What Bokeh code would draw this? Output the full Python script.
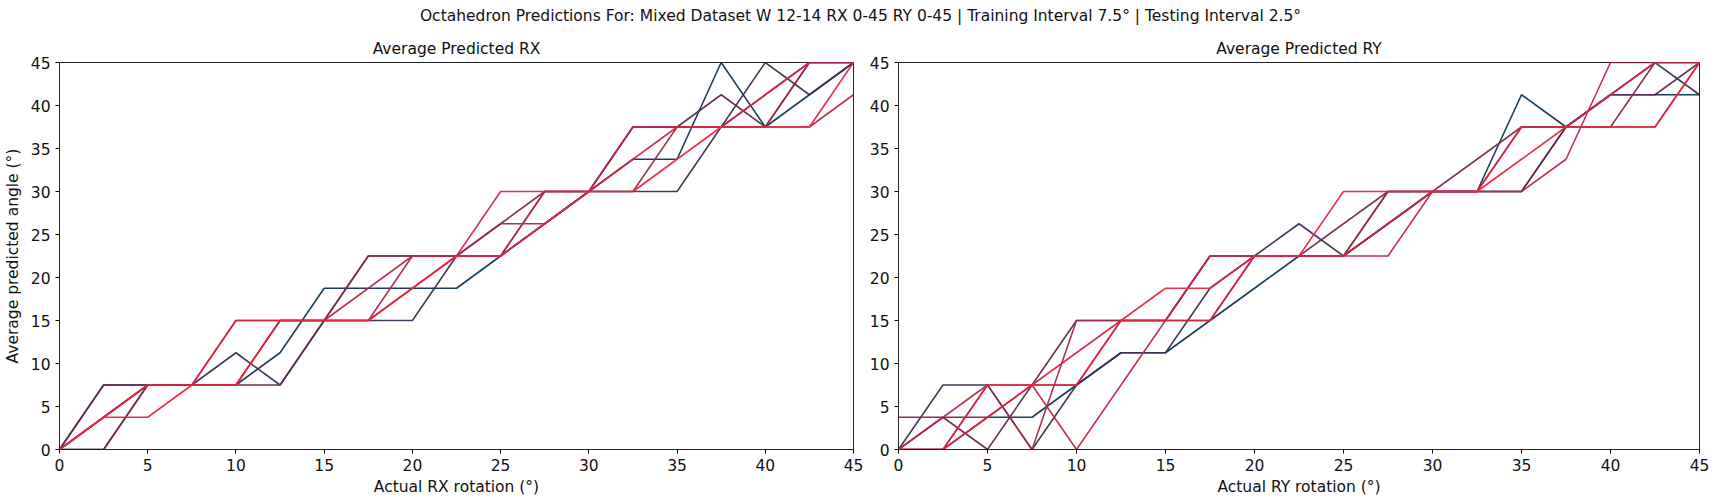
from bokeh.plotting import figure
from bokeh.layouts import column, row
from bokeh.models import Div, FixedTicker
from bokeh.embed import file_html
from bokeh.resources import INLINE

x = [0, 2.5, 5, 7.5, 10, 12.5, 15, 17.5, 20, 22.5, 25, 27.5, 30, 32.5, 35, 37.5, 40, 42.5, 45]

rx_series = [
    [0, 0, 7.5, 7.5, 7.5, 11.25, 18.75, 18.75, 18.75, 18.75, 22.5, 26.25, 30, 33.75, 33.75, 45, 37.5, 41.25, 45],
    [0, 7.5, 7.5, 7.5, 11.25, 7.5, 15, 15, 15, 22.5, 22.5, 26.25, 30, 30, 30, 37.5, 45, 41.25, 45],
    [0, 7.5, 7.5, 7.5, 7.5, 7.5, 15, 22.5, 22.5, 22.5, 22.5, 30, 30, 37.5, 37.5, 41.25, 37.5, 45, 45],
    [0, 0, 7.5, 7.5, 7.5, 15, 15, 22.5, 22.5, 22.5, 26.25, 30, 30, 37.5, 37.5, 37.5, 41.25, 45, 45],
    [0, 3.75, 7.5, 7.5, 15, 15, 15, 15, 22.5, 22.5, 26.25, 26.25, 30, 30, 37.5, 37.5, 37.5, 45, 45],
    [0, 3.75, 7.5, 7.5, 7.5, 15, 15, 18.75, 22.5, 22.5, 22.5, 30, 30, 37.5, 37.5, 37.5, 37.5, 37.5, 41.25],
    [0, 3.75, 7.5, 7.5, 15, 15, 15, 15, 18.75, 22.5, 30, 30, 30, 33.75, 37.5, 37.5, 41.25, 45, 45],
    [0, 3.75, 3.75, 7.5, 7.5, 15, 15, 15, 18.75, 22.5, 22.5, 26.25, 30, 30, 33.75, 37.5, 37.5, 37.5, 45],
]
ry_series = [
    [0, 0, 3.75, 3.75, 7.5, 11.25, 11.25, 15, 18.75, 22.5, 22.5, 26.25, 30, 30, 41.25, 37.5, 41.25, 41.25, 41.25],
    [0, 7.5, 7.5, 0, 7.5, 11.25, 11.25, 18.75, 22.5, 26.25, 22.5, 26.25, 30, 30, 30, 37.5, 41.25, 45, 41.25],
    [0, 3.75, 0, 7.5, 15, 15, 15, 22.5, 22.5, 22.5, 22.5, 30, 30, 30, 30, 37.5, 41.25, 41.25, 45],
    [3.75, 3.75, 3.75, 7.5, 7.5, 15, 15, 15, 22.5, 22.5, 26.25, 30, 30, 33.75, 37.5, 37.5, 37.5, 45, 45],
    [0, 0, 7.5, 0, 15, 15, 15, 22.5, 22.5, 22.5, 22.5, 30, 30, 30, 37.5, 37.5, 37.5, 37.5, 45],
    [0, 3.75, 7.5, 7.5, 0, 7.5, 15, 22.5, 22.5, 22.5, 22.5, 22.5, 30, 30, 30, 33.75, 45, 45, 45],
    [0, 0, 7.5, 7.5, 11.25, 15, 15, 15, 22.5, 22.5, 22.5, 26.25, 30, 30, 37.5, 37.5, 41.25, 45, 45],
    [0, 0, 3.75, 7.5, 7.5, 15, 18.75, 18.75, 22.5, 22.5, 30, 30, 30, 30, 33.75, 37.5, 37.5, 37.5, 45],
]

colors = ["#0f3550", "#3a2f52", "#5c2a4e", "#7e2a4c", "#a02a4a", "#bf2846", "#d82642", "#ea2540"]
ticks = [0, 5, 10, 15, 20, 25, 30, 35, 40, 45]


def make(title, xlabel, ylabel, series, w, bl):
    p = figure(width=w, height=466, x_range=(0, 45), y_range=(0, 45),
               output_backend="svg", toolbar_location=None, title=title,
               min_border_left=bl, min_border_right=12, min_border_top=2, min_border_bottom=4)
    p.title.align = "center"
    p.title.text_font = "DejaVu Sans"
    p.title.text_font_size = "15.5px"
    p.title.text_font_style = "normal"
    p.title.text_color = "#111111"
    p.grid.visible = False
    p.outline_line_color = "#222222"
    for ax in (p.xaxis, p.yaxis):
        ax.ticker = FixedTicker(ticks=ticks)
        ax.major_label_text_font = "DejaVu Sans"
        ax.major_label_text_font_size = "15.5px"
        ax.major_label_text_color = "#111111"
        ax.axis_label_text_font = "DejaVu Sans"
        ax.axis_label_text_font_size = "15.5px"
        ax.axis_label_text_font_style = "normal"
        ax.axis_label_text_color = "#111111"
        ax.minor_tick_line_color = None
        ax.major_tick_in = 0
        ax.major_tick_out = 4
        ax.axis_line_color = "#222222"
    p.xaxis.axis_label = xlabel
    p.xaxis.axis_label_standoff = 4
    if ylabel:
        p.yaxis.axis_label = ylabel
        p.yaxis.axis_label_standoff = 6
    for s, c in zip(series, colors):
        p.line(x, s, line_color=c, line_width=1.6, line_alpha=0.95)
    return p


p1 = make("Average Predicted RX", "Actual RX rotation (°)", "Average predicted angle (°)", rx_series, 865, 49)
p2 = make("Average Predicted RY", "Actual RY rotation (°)", None, ry_series, 846, 33)
head = Div(text="Octahedron Predictions For: Mixed Dataset W 12-14 RX 0-45 RY 0-45 | Training Interval 7.5° | Testing Interval 2.5°",
           width=1711, height=22,
           styles={"text-align": "center", "font-family": "DejaVu Sans", "font-size": "15.5px", "color": "#111111"})
layout = column(head, row(p1, p2, spacing=0), spacing=0)
open("out.html", "w").write(file_html(layout, INLINE))
